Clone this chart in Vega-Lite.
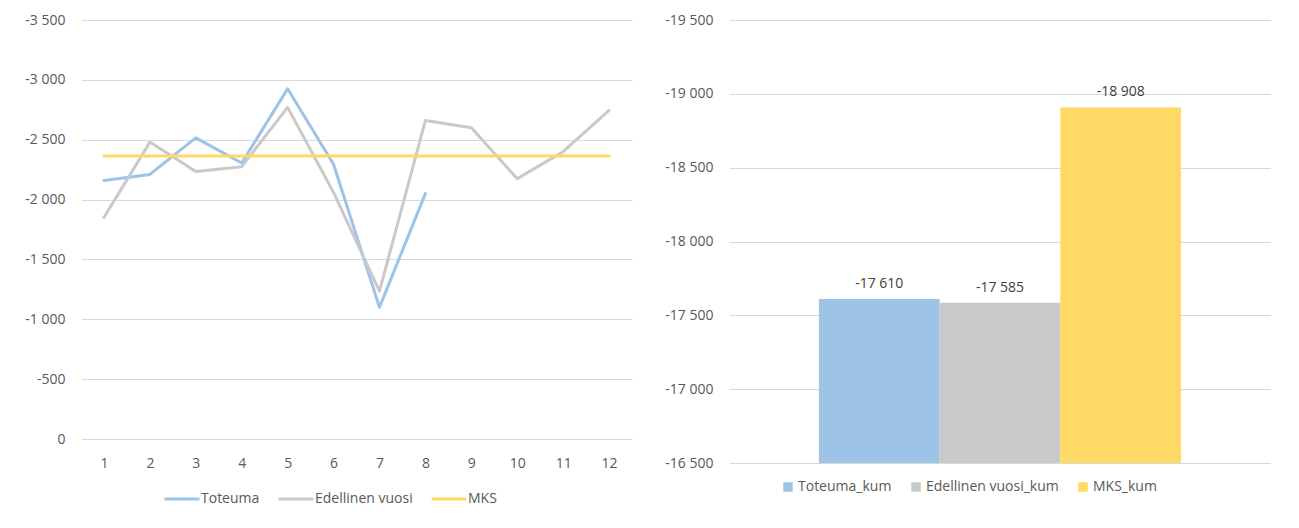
{
  "$schema": "https://vega.github.io/schema/vega-lite/v6.json",
  "background": "white",
  "padding": {"left": 11, "top": 13, "right": 0, "bottom": 0},
  "datasets": {
    "kuukaudet": [
      {"kk": 1, "sarja": "Toteuma", "arvo": -2160},
      {"kk": 2, "sarja": "Toteuma", "arvo": -2210},
      {"kk": 3, "sarja": "Toteuma", "arvo": -2515},
      {"kk": 4, "sarja": "Toteuma", "arvo": -2305},
      {"kk": 5, "sarja": "Toteuma", "arvo": -2925},
      {"kk": 6, "sarja": "Toteuma", "arvo": -2295},
      {"kk": 7, "sarja": "Toteuma", "arvo": -1100},
      {"kk": 8, "sarja": "Toteuma", "arvo": -2050},
      {"kk": 1, "sarja": "Edellinen vuosi", "arvo": -1850},
      {"kk": 2, "sarja": "Edellinen vuosi", "arvo": -2480},
      {"kk": 3, "sarja": "Edellinen vuosi", "arvo": -2235},
      {"kk": 4, "sarja": "Edellinen vuosi", "arvo": -2275},
      {"kk": 5, "sarja": "Edellinen vuosi", "arvo": -2770},
      {"kk": 6, "sarja": "Edellinen vuosi", "arvo": -2060},
      {"kk": 7, "sarja": "Edellinen vuosi", "arvo": -1235},
      {"kk": 8, "sarja": "Edellinen vuosi", "arvo": -2660},
      {"kk": 9, "sarja": "Edellinen vuosi", "arvo": -2600},
      {"kk": 10, "sarja": "Edellinen vuosi", "arvo": -2175},
      {"kk": 11, "sarja": "Edellinen vuosi", "arvo": -2400},
      {"kk": 12, "sarja": "Edellinen vuosi", "arvo": -2745},
      {"kk": 1, "sarja": "MKS", "arvo": -2364},
      {"kk": 2, "sarja": "MKS", "arvo": -2364},
      {"kk": 3, "sarja": "MKS", "arvo": -2364},
      {"kk": 4, "sarja": "MKS", "arvo": -2364},
      {"kk": 5, "sarja": "MKS", "arvo": -2364},
      {"kk": 6, "sarja": "MKS", "arvo": -2364},
      {"kk": 7, "sarja": "MKS", "arvo": -2364},
      {"kk": 8, "sarja": "MKS", "arvo": -2364},
      {"kk": 9, "sarja": "MKS", "arvo": -2364},
      {"kk": 10, "sarja": "MKS", "arvo": -2364},
      {"kk": 11, "sarja": "MKS", "arvo": -2364},
      {"kk": 12, "sarja": "MKS", "arvo": -2364}
    ],
    "kumulatiivinen": [
      {"sarja_kum": "Toteuma_kum", "arvo": -17610},
      {"sarja_kum": "Edellinen vuosi_kum", "arvo": -17585},
      {"sarja_kum": "MKS_kum", "arvo": -18908}
    ]
  },
  "config": {
    "view": {"stroke": null},
    "font": "Open Sans",
    "locale": {"number": {"decimal": ",", "thousands": " ", "grouping": [3], "currency": ["", " €"], "minus": "-"}},
    "axis": {
      "labelFont": "Open Sans",
      "labelFontSize": 14,
      "labelColor": "#595959",
      "gridColor": "#D9D9D9",
      "gridWidth": 1,
      "domain": false,
      "ticks": false,
      "title": null
    },
    "legend": {
      "labelFont": "Open Sans",
      "labelFontSize": 14,
      "labelColor": "#595959",
      "title": null
    },
    "concat": {"spacing": 27}
  },
  "resolve": {"scale": {"color": "independent"}, "legend": {"color": "independent"}},
  "hconcat": [
    {
      "width": 551,
      "height": 419,
      "data": {"name": "kuukaudet"},
      "mark": {"type": "line", "strokeWidth": 3, "strokeCap": "round", "strokeJoin": "round"},
      "encoding": {
        "x": {
          "field": "kk",
          "type": "ordinal",
          "scale": {"type": "point", "padding": 0.5},
          "axis": {"labelAngle": 0, "labelPadding": 17, "grid": false}
        },
        "y": {
          "field": "arvo",
          "type": "quantitative",
          "scale": {"domain": [-3500, 0], "reverse": true, "nice": false},
          "axis": {"values": [-3500, -3000, -2500, -2000, -1500, -1000, -500, 0], "format": ",d", "labelPadding": 16, "minExtent": 70, "maxExtent": 70}
        },
        "color": {
          "field": "sarja",
          "type": "nominal",
          "scale": {"domain": ["Toteuma", "Edellinen vuosi", "MKS"], "range": ["#9DC3E6", "#C9C9C9", "#FFD966"]},
          "legend": {
            "orient": "none",
            "legendX": 82,
            "legendY": 460,
            "direction": "horizontal",
            "symbolType": "stroke",
            "symbolSize": 1225,
            "symbolStrokeWidth": 3,
            "labelOffset": 0,
            "columnPadding": 12
          }
        }
      }
    },
    {
      "width": 542,
      "height": 443,
      "data": {"name": "kumulatiivinen"},
      "encoding": {
        "x": {
          "field": "sarja_kum",
          "type": "nominal",
          "sort": null,
          "scale": {"domain": ["Toteuma_kum", "Edellinen vuosi_kum", "MKS_kum"], "paddingInner": 0, "paddingOuter": 0.745},
          "axis": null
        },
        "y": {
          "field": "arvo",
          "type": "quantitative",
          "scale": {"domain": [-19500, -16500], "reverse": true, "nice": false, "zero": false},
          "axis": {"values": [-19500, -19000, -18500, -18000, -17500, -17000, -16500], "format": ",d", "labelPadding": 16, "minExtent": 70, "maxExtent": 70}
        }
      },
      "layer": [
        {
          "mark": {"type": "bar"},
          "encoding": {
            "y2": {"datum": -16500},
            "color": {
              "field": "sarja_kum",
              "type": "nominal",
              "scale": {"domain": ["Toteuma_kum", "Edellinen vuosi_kum", "MKS_kum"], "range": ["#9DC3E6", "#C9C9C9", "#FFD966"]},
              "legend": {
                "orient": "none",
                "legendX": 52,
                "legendY": 460,
                "direction": "horizontal",
                "symbolType": "square",
                "symbolSize": 90,
                "symbolStrokeWidth": 0,
                "labelOffset": 3,
                "columnPadding": 17
              }
            }
          }
        },
        {
          "mark": {"type": "text", "baseline": "bottom", "dy": -8, "fontSize": 14, "color": "#404040", "font": "Open Sans"},
          "encoding": {
            "text": {"field": "arvo", "type": "quantitative", "format": ",d"}
          }
        }
      ]
    }
  ]
}
